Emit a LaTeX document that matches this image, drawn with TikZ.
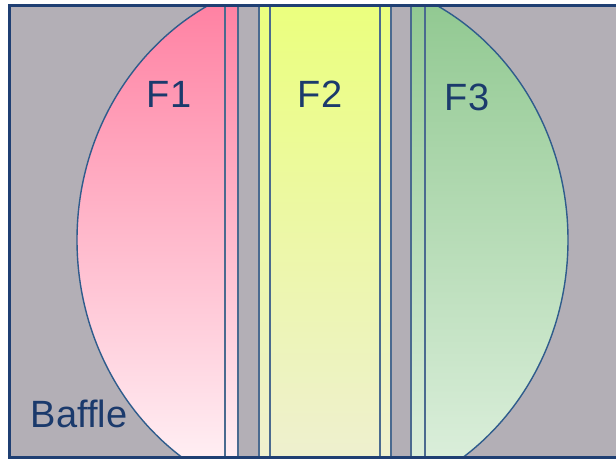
\documentclass[tikz,border=0pt]{standalone}
\usepackage{fontspec}
\setmainfont{Liberation Sans}
\definecolor{baffle}{HTML}{B3AFB6}
\definecolor{pinktop}{HTML}{FF82A3}
\definecolor{pinkbot}{HTML}{FFEEF3}
\definecolor{yeltop}{HTML}{EBFF7E}
\definecolor{yelbot}{HTML}{EEF0CF}
\definecolor{grntop}{HTML}{92C992}
\definecolor{grnbot}{HTML}{DAEEDA}
\definecolor{stripline}{HTML}{4A6A8F}
\definecolor{rimline}{HTML}{2F5C8C}
\definecolor{frameline}{HTML}{1F3F73}
\definecolor{labeltext}{HTML}{1B3A6C}
\tikzset{
  lbl/.style={text=labeltext, inner sep=0pt, font=\fontsize{38}{38}\selectfont},
  sline/.style={draw=stripline, line width=1.3pt},
}
\begin{document}
\begin{tikzpicture}[x=1pt,y=-1pt]
\useasboundingbox (0,0) rectangle (616,461);
\begin{scope}
\clip (0,0) rectangle (616,461);
% baffle plate
\fill[baffle] (9.5,5.5) rectangle (630,457.5);
% filter regions inside the round aperture
\begin{scope}
\clip (322.5,240) ellipse [x radius=245.5, y radius=265];
\shade[top color=pinktop, bottom color=pinkbot] (0,5.5) rectangle (238,457.5);
\shade[top color=yeltop, bottom color=yelbot] (259,5.5) rectangle (391,457.5);
\shade[top color=grntop, bottom color=grnbot] (411,5.5) rectangle (630,457.5);
\end{scope}
% strip edges
\coordinate (t1) at (225,5.5);  \coordinate (b1) at (225,457.5);
\coordinate (t2) at (238,5.5);  \coordinate (b2) at (238,457.5);
\coordinate (t3) at (259,5.5);  \coordinate (b3) at (259,457.5);
\coordinate (t4) at (270,5.5);  \coordinate (b4) at (270,457.5);
\coordinate (t5) at (380,5.5);  \coordinate (b5) at (380,457.5);
\coordinate (t6) at (391,5.5);  \coordinate (b6) at (391,457.5);
\coordinate (t7) at (411,5.5);  \coordinate (b7) at (411,457.5);
\coordinate (t8) at (425,5.5);  \coordinate (b8) at (425,457.5);
\foreach \i in {1,...,8} { \draw[sline] (t\i) -- (b\i); }
% aperture rim
\begin{scope}
\clip (9.5,5.5) rectangle (630,457.5);
\draw[rimline, line width=1.4pt] (322.5,240) ellipse [x radius=245.5, y radius=265];
\end{scope}
% frame
\draw[frameline, line width=2.6pt] (630,5.5) -- (9.5,5.5) -- (9.5,457.5) -- (630,457.5);
\end{scope}
\node[lbl] (f1) at (169,94) {F1};
\node[lbl] (f2) at (320,94) {F2};
\node[lbl] (f3) at (467,97) {F3};
\node[lbl] (baffle) at (79,414) {Baffle};
\end{tikzpicture}
\end{document}
